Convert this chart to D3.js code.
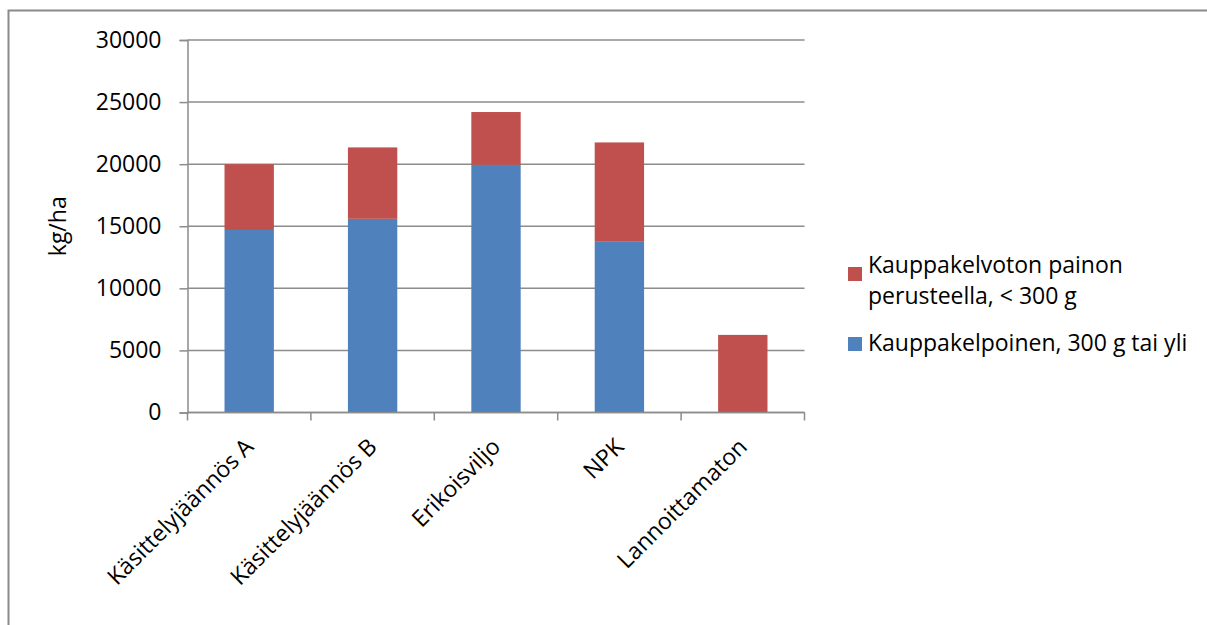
<!DOCTYPE html>
<html>
<head>
<meta charset="utf-8">
<script src="https://cdn.jsdelivr.net/npm/d3@7"></script>
<style>
  body { margin: 0; background: #fff; }
  text { font-family: "Open Sans", sans-serif; fill: #000; font-size: 23px; }
</style>
</head>
<body>
<div id="chart"></div>
<script>
// Data
const categories = ["Käsittelyjäännös A", "Käsittelyjäännös B", "Erikoisviljo", "NPK", "Lannoittamaton"];
const kauppakelpoinen = [14700, 15600, 19950, 13800, 0];
const kauppakelvoton = [5300, 5750, 4250, 7950, 6250];
const yTicks = [0, 5000, 10000, 15000, 20000, 25000, 30000];
const seriesNames = ["Kauppakelpoinen, 300 g tai yli", "Kauppakelvoton painon perusteella, < 300 g"];
const colors = ["#4F81BD", "#C0504D"];

const width = 1207, height = 625;
const plot = {left: 187.5, right: 804.5, top: 40, bottom: 412.5};

const svg = d3.select("#chart")
  .append("svg")
  .attr("width", width)
  .attr("height", height);

// outer chart frame
svg.append("rect")
  .attr("x", 8.5).attr("y", 10.5)
  .attr("width", 1210).attr("height", 640)
  .attr("fill", "none")
  .attr("stroke", "#8a8a8a")
  .attr("stroke-width", 2);

const x = d3.scaleBand().domain(categories).range([plot.left, plot.right]).padding(0);
const y = d3.scaleLinear().domain([0, 30000]).range([plot.bottom, plot.top]);
const barW = x.bandwidth() * 0.4;

// gridlines
svg.append("g")
  .selectAll("line")
  .data(yTicks)
  .join("line")
  .attr("x1", plot.left).attr("x2", plot.right)
  .attr("y1", d => y(d)).attr("y2", d => y(d))
  .attr("stroke", "#8c8c8c")
  .attr("stroke-width", 1.5);

// stacked bars
const rows = categories.map((c, i) => ({cat: c, a: kauppakelpoinen[i], b: kauppakelvoton[i]}));
const stack = d3.stack().keys(["a", "b"])(rows);

svg.append("g")
  .selectAll("g")
  .data(stack)
  .join("g")
  .attr("fill", (d, i) => colors[i])
  .selectAll("rect")
  .data(d => d)
  .join("rect")
  .attr("x", d => x(d.data.cat) + (x.bandwidth() - barW) / 2)
  .attr("width", barW)
  .attr("y", d => y(d[1]))
  .attr("height", d => y(d[0]) - y(d[1]));

// y axis
const yAxis = svg.append("g")
  .attr("transform", `translate(${plot.left},0)`)
  .call(d3.axisLeft(y).tickValues(yTicks).tickSize(8).tickPadding(18).tickFormat(d3.format("d")));
yAxis.select(".domain").attr("stroke", "#8c8c8c").attr("stroke-width", 1.5);
yAxis.selectAll(".tick line").attr("stroke", "#8c8c8c").attr("stroke-width", 1.5);
yAxis.selectAll("text").style("font-size", "23px").style("font-family", "Open Sans");

// x axis: line + ticks at category boundaries
const xg = svg.append("g");
xg.append("line")
  .attr("x1", plot.left).attr("x2", plot.right)
  .attr("y1", plot.bottom).attr("y2", plot.bottom)
  .attr("stroke", "#8c8c8c").attr("stroke-width", 1.5);
const bounds = categories.map(c => x(c)).concat([plot.right]);
xg.selectAll("line.tk")
  .data(bounds)
  .join("line")
  .attr("class", "tk")
  .attr("x1", d => d).attr("x2", d => d)
  .attr("y1", plot.bottom).attr("y2", plot.bottom + 8)
  .attr("stroke", "#8c8c8c").attr("stroke-width", 1.5);

xg.selectAll("text")
  .data(categories)
  .join("text")
  .attr("transform", d => `translate(${x(d) + x.bandwidth() / 2},${plot.bottom + 30}) rotate(-45)`)
  .attr("text-anchor", "end")
  .attr("dy", "0.35em")
  .text(d => d);

// y axis title
svg.append("text")
  .attr("transform", `translate(66,${(plot.top + plot.bottom) / 2}) rotate(-90)`)
  .attr("text-anchor", "middle")
  .text("kg/ha");

// legend (red series first, as in the chart)
const legend = svg.append("g");
legend.append("rect").attr("x", 848).attr("y", 267).attr("width", 14).attr("height", 14).attr("fill", colors[1]);
legend.append("text").attr("x", 868).attr("y", 273).text("Kauppakelvoton painon");
legend.append("text").attr("x", 868).attr("y", 304).text("perusteella, < 300 g");
legend.append("rect").attr("x", 848).attr("y", 337).attr("width", 14).attr("height", 14).attr("fill", colors[0]);
legend.append("text").attr("x", 868).attr("y", 351).text(seriesNames[0]);
</script>
</body>
</html>
